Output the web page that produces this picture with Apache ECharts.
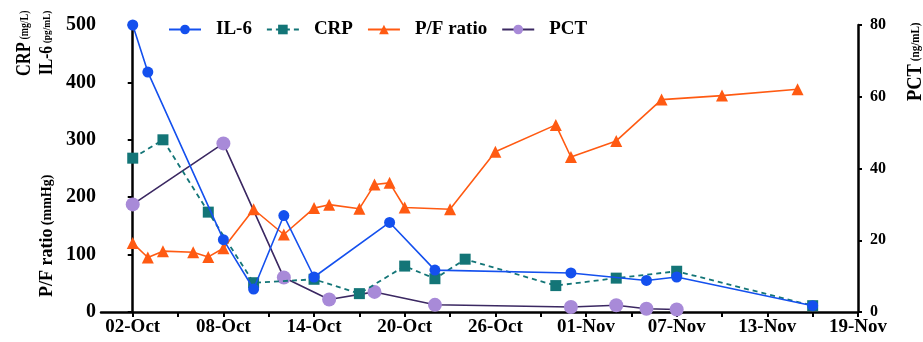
<!DOCTYPE html>
<html>
<head>
<meta charset="utf-8">
<script src="https://cdn.jsdelivr.net/npm/echarts@6/dist/echarts.min.js"></script>
<style>html,body{margin:0;padding:0;background:#fff}#c{width:923px;height:342px}</style>
</head>
<body>
<div id="c"></div>
<script>
// ---- data (dates as MM-DD, year 2020 assumed) ----
var il6Dates = ['10-02','10-03','10-08','10-10','10-12','10-14','10-19','10-22','10-31','11-05','11-07','11-16'];
var il6Values = [500, 418, 126, 40, 168, 61, 156, 73, 68, 55, 61, 11];

var crpDates = ['10-02','10-04','10-07','10-10','10-14','10-17','10-20','10-22','10-24','10-30','11-03','11-07','11-16'];
var crpValues = [268, 300, 174, 51, 57, 32, 80, 58, 92, 46, 59, 71, 11];

var pfDates = ['10-02','10-03','10-04','10-06','10-07','10-08','10-10','10-12','10-14','10-15','10-17','10-18','10-19','10-20','10-23','10-26','10-30','10-31','11-03','11-06','11-10','11-15'];
var pfValues = [120, 95, 106, 104, 96, 111, 179, 135, 181, 187, 180, 222, 225, 182, 179, 279, 326, 270, 298, 370, 377, 388];

var pctDates = ['10-02','10-08','10-12','10-15','10-18','10-22','10-31','11-03','11-05','11-07'];
var pctValues = [30, 47, 9.6, 3.5, 5.6, 2.0, 1.4, 1.9, 0.9, 0.7];

var xTickLabels = ['02-Oct','08-Oct','14-Oct','20-Oct','26-Oct','01-Nov','07-Nov','13-Nov','19-Nov'];
var leftTicks = [0, 100, 200, 300, 400, 500];
var rightTicks = [0, 20, 40, 60, 80];

// ---- helpers ----
var base = Date.UTC(2020, 9, 2);
function dayOf(md) {
  var p = md.split('-');
  return Math.round((Date.UTC(2020, +p[0] - 1, +p[1]) - base) / 86400000);
}
function pairs(dates, vals) { return dates.map(function (d, i) { return [dayOf(d), vals[i]]; }); }
var labelDays = xTickLabels.map(function (l, i) { return i * 6; });
var tickDays = [];
for (var t = 0; t <= 48; t += 3) tickDays.push(t);
var labelMap = {};
labelDays.forEach(function (d, i) { labelMap[d] = xTickLabels[i]; });

var FONT = 'Liberation Serif';
var C_IL6 = '#1450ee', C_CRP = '#137577', C_PF = '#ff5a12', C_PCTL = '#3b2862', C_PCTM = '#a88ad8';

function rotTitle(x, y, main, unit, mainSize, unitSize, sx) {
  return { type: 'text', rotation: Math.PI / 2, x: x, y: y, scaleX: sx || 1,
    style: { text: '{b|' + main + '} {s|' + unit + '}', align: 'left', verticalAlign: 'middle', fill: '#000',
      rich: { b: { fontFamily: FONT, fontWeight: 'bold', fontSize: mainSize },
              s: { fontFamily: FONT, fontWeight: 'bold', fontSize: unitSize } } } };
}

var chart = echarts.init(document.getElementById('c'));
chart.setOption({
  animation: false,
  backgroundColor: '#fff',
  textStyle: { fontFamily: FONT },
  legend: {
    left: 163, top: 15,
    itemWidth: 32, itemHeight: 12, itemGap: 14,
    textStyle: { fontFamily: FONT, fontWeight: 'bold', fontSize: 19, color: '#000', padding: [0, 0, 0, 10] },
    data: ['IL-6', 'CRP', 'P/F ratio', 'PCT']
  },
  grid: { left: 101, right: 65, top: 25, bottom: 30, containLabel: false },
  xAxis: {
    type: 'value', min: -2.1, max: 48,
    splitLine: { show: false },
    axisLine: { lineStyle: { color: '#000', width: 2.5 } },
    axisTick: { show: true, customValues: tickDays, length: 5, lineStyle: { color: '#000', width: 2 } },
    axisLabel: {
      customValues: labelDays, formatter: function (v) { return labelMap[Math.round(v)] || ''; },
      fontFamily: FONT, fontWeight: 'bold', fontSize: 19, color: '#000', margin: 6
    }
  },
  yAxis: [{
    type: 'value', min: 0, max: 500, interval: 100,
    splitLine: { show: false },
    axisLine: { show: true, lineStyle: { color: '#000', width: 2.5 } },
    axisTick: { show: true, length: 5, lineStyle: { color: '#000', width: 2 } },
    axisLabel: { fontFamily: FONT, fontWeight: 'bold', fontSize: 20, color: '#000', margin: 5,
      customValues: leftTicks }
  }, {
    type: 'value', min: 0, max: 80, interval: 20, position: 'right',
    splitLine: { show: false },
    axisLine: { show: true, lineStyle: { color: '#000', width: 2.5 } },
    axisTick: { show: true, length: 4, lineStyle: { color: '#000', width: 2 } },
    axisLabel: { fontFamily: FONT, fontWeight: 'bold', fontSize: 16, color: '#000', margin: 12,
      customValues: rightTicks }
  }],
  graphic: [
    rotTitle(25, 76, 'CRP', '(mg/L)', 20, 12, 0.82),
    rotTitle(47, 75, 'IL-6', '(pg/mL)', 18, 11, 0.85),
    rotTitle(47, 297, 'P/F ratio', '(mmHg)', 18, 14),
    rotTitle(916, 101, 'PCT', '(ng/mL)', 20, 12, 0.92)
  ],
  series: [{
    name: 'IL-6', type: 'line', yAxisIndex: 0, data: pairs(il6Dates, il6Values),
    symbol: 'circle', symbolSize: 11, z: 4,
    lineStyle: { color: C_IL6, width: 1.6 }, itemStyle: { color: C_IL6 }
  }, {
    name: 'CRP', type: 'line', yAxisIndex: 0, data: pairs(crpDates, crpValues),
    symbol: 'rect', symbolSize: 11, z: 3,
    lineStyle: { color: C_CRP, width: 1.8, type: [5, 4] }, itemStyle: { color: C_CRP }
  }, {
    name: 'P/F ratio', type: 'line', yAxisIndex: 0, data: pairs(pfDates, pfValues),
    symbol: 'triangle', symbolSize: 12, z: 3,
    lineStyle: { color: C_PF, width: 1.6 }, itemStyle: { color: C_PF }
  }, {
    name: 'PCT', type: 'line', yAxisIndex: 1, data: pairs(pctDates, pctValues),
    symbol: 'circle', symbolSize: 14, z: 2,
    lineStyle: { color: C_PCTL, width: 1.6 }, itemStyle: { color: C_PCTM }
  }]
});
</script>
</body>
</html>
